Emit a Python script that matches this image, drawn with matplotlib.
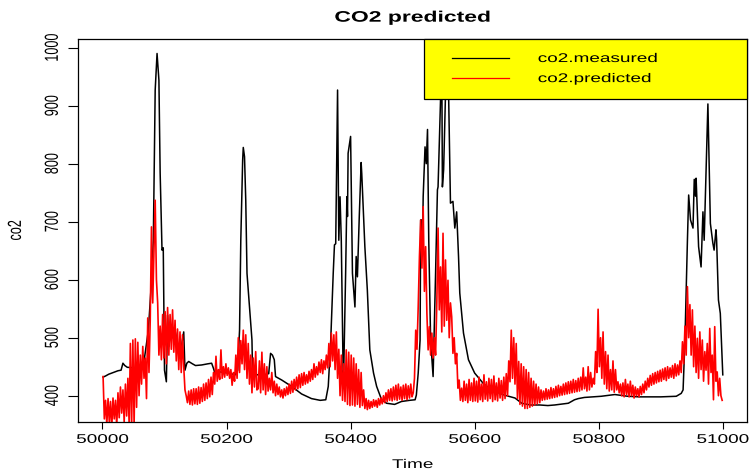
import numpy as np
import matplotlib
matplotlib.use("Agg")
import matplotlib.pyplot as plt
from matplotlib.patheffects import AbstractPathEffect
from matplotlib.transforms import Affine2D
from matplotlib.legend_handler import HandlerLine2D
from matplotlib.lines import Line2D

# ---- measured CO2 (sample time, value) ----
measured_time = [
    50001, 50005, 50010, 50015, 50020, 50025, 50030, 50033, 50036, 50040,
    50050, 50060, 50064, 50068, 50071, 50074, 50078, 50082, 50085, 50088,
    50090, 50091, 50093, 50096, 50098, 50100, 50103, 50105, 50107, 50110,
    50113, 50117, 50120, 50125, 50128, 50131, 50133, 50136, 50139, 50145,
    50150, 50160, 50170, 50176, 50179, 50181, 50190, 50203, 50214, 50218,
    50221, 50223, 50226, 50227, 50229, 50231, 50233, 50237, 50241, 50242,
    50250, 50260, 50268, 50271, 50274, 50277, 50279, 50289, 50305, 50321,
    50337, 50351, 50360, 50364, 50368, 50372, 50374, 50376, 50379, 50381,
    50383, 50385, 50388, 50389, 50392, 50394, 50395, 50396, 50400, 50403,
    50407, 50409, 50411, 50414, 50417, 50418, 50423, 50427, 50431, 50437,
    50442, 50450, 50458, 50471, 50482, 50495, 50504, 50506, 50509, 50512,
    50513, 50515, 50516, 50517, 50520, 50522, 50524, 50526, 50529, 50533,
    50537, 50540, 50541, 50545, 50547, 50548, 50550, 50553, 50556, 50558,
    50561, 50565, 50568, 50571, 50572, 50574, 50576, 50582, 50590, 50600,
    50614, 50627, 50648, 50665, 50676, 50690, 50705, 50718, 50729, 50751,
    50761, 50767, 50777, 50804, 50826, 50847, 50866, 50900, 50925, 50933,
    50936, 50939, 50943, 50945, 50948, 50952, 50954, 50956, 50957, 50961,
    50965, 50968, 50970, 50976, 50980, 50984, 50986, 50989, 50990, 50993,
    50996, 51000,
]
measured_co2 = [
    432, 434, 437, 439, 441, 443, 444, 456, 452, 449,
    448, 448, 450, 467, 490, 513, 580, 668, 927, 990,
    960, 944, 784, 651, 655, 444, 424, 539, 485, 520,
    500, 513, 495, 467, 490, 510, 444, 456, 459, 455,
    452, 453, 455, 456, 447, 440, 441, 439, 436, 444,
    513, 668, 806, 828, 812, 737, 611, 553, 496, 439,
    436, 436, 438, 473, 470, 462, 433, 427, 416, 403,
    395, 392, 393, 416, 496, 611, 660, 662, 927, 668,
    743, 668, 439, 445, 611, 743, 709, 818, 847, 611,
    553, 640, 605, 709, 802, 783, 657, 582, 479, 439,
    416, 393, 387, 385, 390, 392, 393, 401, 439, 496,
    703, 703, 660, 743, 829, 800, 859, 668, 496, 433,
    611, 755, 760, 910, 975, 760, 790, 920, 985, 920,
    732, 735, 689, 717, 690, 640, 577, 508, 462, 439,
    421, 410, 401, 396, 387, 384, 384, 383, 384, 387,
    393, 395, 397, 399, 402, 399, 398, 398, 399, 404,
    410, 496, 668, 746, 703, 689, 773, 744, 775, 657,
    622, 717, 668, 903, 697, 663, 651, 686, 670, 565,
    542, 436,
]

# ---- predicted CO2, one value every 2 time steps starting at 50001 ----
predicted_co2 = [
    # 50001 - 50049
    433, 360, 392, 350, 395, 355, 390, 345, 396, 360, 392, 348, 405,
    362, 415, 370, 410, 355, 420, 365, 430, 350, 490, 345, 496,
    # 50051 - 50099
    350, 498, 380, 492, 400, 470, 420, 485, 430, 465, 395, 534, 440,
    530, 691, 560, 650, 737, 600, 560, 470, 520, 462, 540, 465,
    # 50101 - 50149
    545, 455, 552, 470, 540, 480, 548, 475, 530, 460, 515, 445, 510,
    440, 505, 450, 410, 400, 388, 408, 385, 410, 384, 412, 386,
    # 50151 - 50199
    412, 385, 415, 387, 414, 390, 420, 392, 422, 395, 428, 398, 432,
    402, 440, 420, 468, 425, 445, 428, 479, 430, 450, 432, 455,
    # 50201 - 50249
    435, 448, 430, 445, 418, 440, 425, 470, 430, 500, 440, 495, 455,
    513, 445, 505, 430, 490, 420, 470, 405, 465, 415, 476, 410,
    # 50251 - 50299
    412, 460, 405, 475, 410, 455, 402, 450, 408, 430, 410, 440, 405,
    425, 400, 420, 402, 415, 398, 410, 396, 412, 400, 415, 402,
    # 50301 - 50349
    420, 404, 425, 406, 428, 410, 432, 412, 436, 414, 438, 418, 440,
    420, 436, 422, 442, 425, 445, 428, 455, 432, 450, 436, 458,
    # 50351 - 50399
    440, 462, 438, 460, 445, 470, 448, 490, 450, 508, 460, 505, 445,
    510, 430, 480, 400, 470, 392, 455, 390, 479, 385, 475, 383,
    # 50401 - 50449
    470, 384, 465, 382, 455, 385, 445, 380, 440, 383, 410, 378, 395,
    376, 392, 378, 390, 380, 393, 382, 392, 380, 395, 384, 396,
    # 50451 - 50499
    386, 400, 388, 405, 390, 410, 392, 412, 391, 415, 393, 418, 392,
    420, 394, 415, 392, 418, 395, 420, 393, 417, 396, 420, 398,
    # 50501 - 50549
    405, 430, 513, 480, 553, 640, 703, 620, 726, 580, 657, 542, 479,
    519, 470, 508, 465, 500, 470, 560, 689, 548, 622, 510, 680,
    # 50551 - 50599
    520, 634, 530, 599, 500, 560, 536, 473, 500, 455, 473, 413, 427,
    392, 413, 390, 425, 392, 420, 388, 428, 392, 422, 390, 430,
    # 50601 - 50649
    391, 425, 389, 432, 393, 420, 390, 436, 394, 424, 391, 430, 395,
    428, 390, 434, 393, 422, 391, 430, 396, 426, 392, 432, 395,
    # 50651 - 50699
    438, 400, 460, 424, 513, 430, 500, 420, 490, 395, 459, 385, 455,
    382, 450, 378, 445, 378, 440, 380, 430, 382, 425, 384, 420,
    # 50701 - 50749
    386, 415, 388, 410, 392, 408, 393, 412, 394, 410, 395, 414, 396,
    412, 397, 416, 398, 418, 400, 416, 401, 420, 402, 422, 403,
    # 50751 - 50799
    424, 404, 425, 405, 428, 406, 426, 407, 430, 408, 432, 410, 448,
    412, 432, 408, 450, 410, 440, 415, 430, 420, 476, 440, 549,
    # 50801 - 50849
    450, 500, 430, 510, 420, 476, 412, 470, 408, 445, 410, 460, 406,
    445, 410, 424, 405, 420, 400, 422, 398, 428, 402, 420, 398,
    # 50851 - 50899
    425, 400, 418, 396, 415, 400, 412, 398, 416, 402, 420, 405, 425,
    410, 430, 415, 435, 418, 438, 420, 440, 422, 442, 424, 444,
    # 50901 - 50949
    425, 446, 428, 448, 426, 450, 430, 448, 432, 452, 430, 455, 434,
    453, 436, 460, 440, 493, 455, 520, 470, 588, 500, 557, 470,
    # 50951 - 50999
    548, 450, 520, 440, 499, 430, 510, 445, 496, 425, 476, 444, 490,
    420, 516, 440, 470, 393, 519, 425, 441, 400, 430, 400, 392,
]
predicted_time = np.arange(50001, 51000, 2)

x_ticks = [50000, 50200, 50400, 50600, 50800, 51000]
y_ticks = [400, 500, 600, 700, 800, 900, 1000]
series_labels = ["co2.measured", "co2.predicted"]


class Widen(AbstractPathEffect):
    """Draw glyphs stretched horizontally about a chosen anchor of their ink box."""

    def __init__(self, sx=1.5, anchor="center"):
        super().__init__()
        self.sx = sx
        self.anchor = anchor

    def draw_path(self, renderer, gc, tpath, affine, rgbFace=None):
        ext = tpath.get_extents(affine)
        if self.anchor == "left":
            x0 = ext.x0
        elif self.anchor == "right":
            x0 = ext.x1
        else:
            x0 = 0.5 * (ext.x0 + ext.x1)
        stretch = Affine2D().translate(-x0, 0).scale(self.sx, 1.0).translate(x0, 0)
        renderer.draw_path(gc, tpath, affine + stretch, rgbFace)


SX = 1.5
FS = 9.1
plt.rcParams["font.family"] = ["Liberation Sans", "DejaVu Sans"]

fig = plt.figure(figsize=(7.49, 4.72), dpi=100)
ax = fig.add_axes([0.1045, 0.1066, 0.8928, 0.8108])

ax.plot(measured_time, measured_co2, color="black", lw=1.1, label=series_labels[0])
ax.plot(predicted_time, predicted_co2, color="red", lw=1.2, label=series_labels[1])

ax.set_xlim(49961, 51039)
ax.set_ylim(355.2, 1015)
ax.set_xticks(x_ticks)
ax.set_yticks(y_ticks)
ax.set_xticklabels([str(v) for v in x_ticks], fontsize=FS)
ax.set_yticklabels([str(v) for v in y_ticks], fontsize=FS, rotation=90, va="center")
ax.tick_params(axis="x", length=5.0, width=0.8, pad=3.8, colors="black")
ax.tick_params(axis="y", length=7.2, width=0.8, pad=5.3, colors="black")
for sp in ax.spines.values():
    sp.set_linewidth(0.9)
    sp.set_color("black")

for lab in ax.get_xticklabels():
    lab.set_path_effects([Widen(SX, "center")])
for lab in ax.get_yticklabels():
    lab.set_path_effects([Widen(SX, "right")])

title = ax.set_title("CO2 predicted", fontsize=11, fontweight="bold",
                     y=1.0452, pad=0, va="baseline")
title.set_path_effects([Widen(SX, "center")])

ax.set_xlabel("Time", fontsize=FS)
ax.xaxis.set_label_coords(0.5, -0.121)
ax.xaxis.label.set_va("baseline")
ax.xaxis.label.set_path_effects([Widen(SX, "center")])

ax.set_ylabel("co2", fontsize=FS)
ax.yaxis.set_label_coords(-0.0935, 0.5)
ax.yaxis.label.set_va("center")
ax.yaxis.label.set_path_effects([Widen(SX, "center")])

leg = ax.legend(
    loc="upper right", bbox_to_anchor=(0.517, 0.0, 0.483, 1.0), mode="expand",
    borderaxespad=0.0, fontsize=FS, handlelength=6.72, handletextpad=1.19,
    borderpad=1.11, labelspacing=0.64, fancybox=False, framealpha=1.0,
    facecolor="yellow", edgecolor="black",
    handler_map={Line2D: HandlerLine2D(numpoints=2, marker_pad=1.10)},
)
leg.get_frame().set_linewidth(0.9)
for line in leg.get_lines():
    line.set_linewidth(0.9)
for t in leg.get_texts():
    t.set_path_effects([Widen(SX, "left")])

fig.savefig("out.png", dpi=100)
